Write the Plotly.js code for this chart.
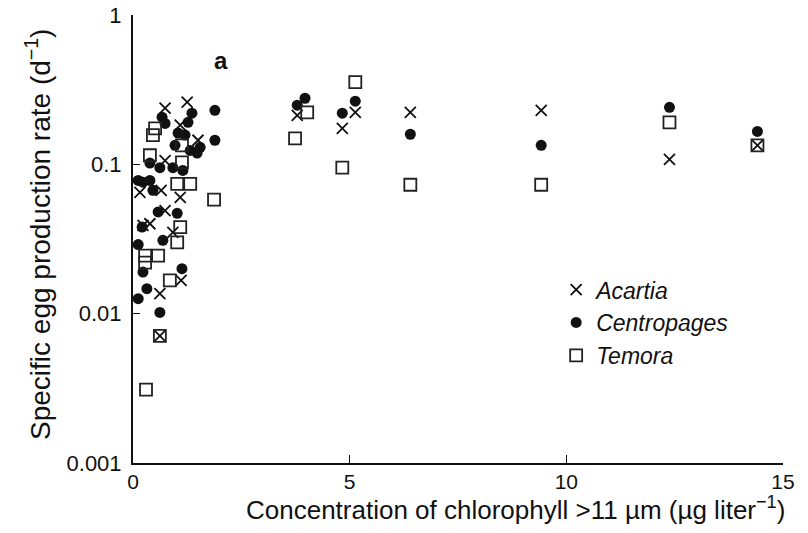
<!DOCTYPE html>
<html>
<head>
<meta charset="utf-8">
<script src="https://cdn.plot.ly/plotly-3.0.1.min.js"></script>
<style>html,body{margin:0;padding:0;background:#fff;}#chart{width:808px;height:533px;}</style>
</head>
<body>
<div id="chart"></div>
<script>
// Acartia (x marks)
const acartiaX = [0.74,1.25,1.09,1.50,0.74,0.16,0.65,1.09,0.74,0.23,0.39,0.92,1.11,0.62,0.62,
                  3.79,4.83,5.13,6.40,9.42,12.38,14.41];
const acartiaY = [0.238,0.261,0.183,0.145,0.106,0.065,0.067,0.060,0.049,0.039,0.040,0.035,0.0167,0.0136,0.0071,
                  0.213,0.174,0.223,0.223,0.230,0.108,0.134];
// Centropages (filled dots)
const centroX = [1.89,1.89,1.36,1.27,0.67,0.74,1.04,1.20,0.97,1.32,1.48,1.55,0.39,0.62,0.92,1.15,0.23,0.39,0.46,0.12,
                 0.58,1.02,0.21,0.69,0.12,0.23,1.13,0.32,0.12,0.62,
                 3.79,3.97,4.83,5.13,6.40,9.42,12.38,14.41];
const centroY = [0.230,0.145,0.220,0.191,0.207,0.188,0.162,0.157,0.134,0.124,0.119,0.130,0.102,0.095,0.095,0.091,0.076,0.078,0.067,0.078,
                 0.048,0.047,0.038,0.031,0.029,0.019,0.020,0.0147,0.0126,0.0102,
                 0.249,0.277,0.220,0.265,0.159,0.134,0.241,0.166];
// Temora (open squares)
const temoraX = [0.51,0.46,1.13,0.39,1.13,1.02,1.32,1.87,1.09,1.02,0.28,0.58,0.28,0.85,0.62,0.30,
                 3.74,4.02,4.83,5.13,6.40,9.42,12.38,14.41];
const temoraY = [0.174,0.157,0.134,0.115,0.103,0.074,0.074,0.058,0.038,0.030,0.0245,0.0245,0.022,0.0167,0.0071,0.0031,
                 0.149,0.223,0.095,0.355,0.073,0.073,0.191,0.134];

const xTicks = [0,5,10,15];
const yTicks = [1,0.1,0.01,0.001];
const yTickText = ['1','0.1','0.01','0.001'];

const FONT = 'Liberation Sans, Arial, Helvetica, sans-serif';

const traces = [
  {x: acartiaX, y: acartiaY, mode:'markers', type:'scatter', name:'<i>Acartia</i>',
   marker:{symbol:'x-thin-open', size:11, color:'#111', line:{width:1.8, color:'#111'}}},
  {x: centroX, y: centroY, mode:'markers', type:'scatter', name:'<i>Centropages</i>',
   marker:{symbol:'circle', size:11, color:'#111', line:{width:0}}},
  {x: temoraX, y: temoraY, mode:'markers', type:'scatter', name:'<i>Temora</i>',
   marker:{symbol:'square-open', size:12, color:'#222', line:{width:1.8, color:'#222'}}}
];

const layout = {
  width:808, height:533,
  margin:{l:133, r:25, t:15, b:70},
  paper_bgcolor:'#fff', plot_bgcolor:'#fff',
  font:{family:FONT, size:22, color:'#111'},
  showlegend:true,
  legend:{x:0.651, y:0.435, xanchor:'left', yanchor:'top', bgcolor:'rgba(0,0,0,0)',
          font:{family:FONT, size:23, color:'#111'}, tracegroupgap:2, itemwidth:30},
  xaxis:{range:[0,15], tickvals:xTicks, ticktext:xTicks.map(String), ticks:'inside', ticklen:8,
         tickwidth:1.5, tickcolor:'#111', showline:true, linecolor:'#111', linewidth:2,
         showgrid:false, zeroline:false, mirror:false, ticklabelstandoff:-1,
         tickfont:{family:FONT, size:21, color:'#111'}},
  yaxis:{type:'log', range:[-3,0], tickvals:yTicks, ticktext:yTickText, ticks:'inside', ticklen:7,
         tickwidth:1.5, tickcolor:'#111', showline:true, linecolor:'#111', linewidth:2,
         showgrid:false, zeroline:false, ticklabelstandoff:5,
         tickfont:{family:FONT, size:22, color:'#111'}},
  annotations:[
    {text:'<b>a</b>', xref:'paper', yref:'paper', x:(212-133)/650, y:(463-45)/448, showarrow:false,
     font:{family:FONT, size:24, color:'#111'}},
    {text:'Specific egg production rate (d<sup>−1</sup>)', xref:'paper', yref:'paper',
     x:-(133-38)/650, y:(463-235)/448, textangle:-90, showarrow:false, xanchor:'center', yanchor:'middle',
     font:{family:FONT, size:28, color:'#111'}},
    {text:'Concentration of chlorophyll >11 µm (µg liter<sup>−1</sup>)', xref:'paper', yref:'paper',
     x:(515-133)/650, y:-(508-463)/448, showarrow:false, xanchor:'center', yanchor:'middle',
     font:{family:FONT, size:26, color:'#111'}}
  ]
};

Plotly.newPlot('chart', traces, layout, {displayModeBar:false, staticPlot:true});
</script>
</body>
</html>
